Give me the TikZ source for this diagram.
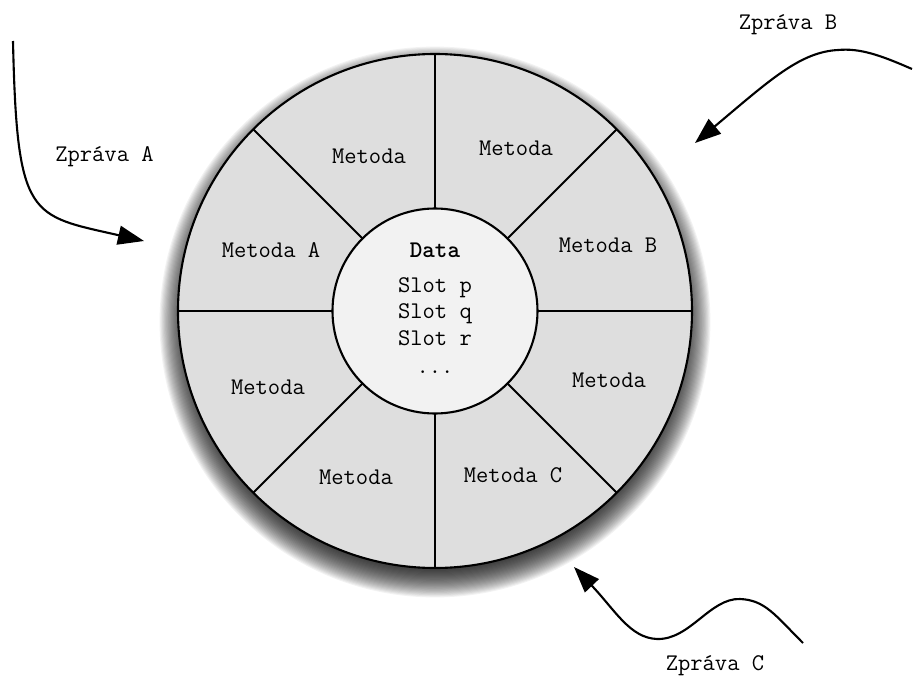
\documentclass[tikz,border=0pt]{standalone}
\usepackage{fontspec}
\usetikzlibrary{arrows.meta}
\definecolor{sectorfill}{HTML}{DEDEDE}
\definecolor{datafill}{HTML}{F2F2F2}
\def\outerr{5.14}
\def\innerr{2.05}
\def\shadowdrop{0.22}
\tikzset{
    every node/.style={font=\ttfamily\fontsize{13.6}{16}\selectfont},
    ring/.style={line width=1.2pt},
    metodatext/.style={inner sep=0pt},
    zpravatext/.style={anchor=base, inner sep=0pt},
    zprava/.style={line width=1.2pt, -{Triangle[length=0.52cm, width=0.38cm]}}
}
\newcommand{\metoda}[3]{
    \node[metodatext] (#1) at (#2) {#3};
}
\begin{document}
\begin{tikzpicture}
    \useasboundingbox (-8.70,-7.28) rectangle (9.56,6.22);
    % soft shadow under the ring
    \foreach \i in {0,...,24}
        \fill[black, opacity=0.05] (0,-\shadowdrop) circle ({\outerr-0.16+0.022*\i});
    % ring with the methods
    \coordinate (stred) at (0,0);
    \filldraw[ring, fill=sectorfill] (stred) circle (\outerr);
    \foreach \a in {0,45,...,315}
        \draw[ring] (\a:\innerr) -- (\a:\outerr);
    \filldraw[ring, fill=datafill] (stred) circle (\innerr);
    \metoda{m1}{-1.32,3.10}{Metoda}
    \metoda{m2}{1.62,3.26}{Metoda}
    \metoda{mA}{-3.28,1.22}{Metoda A}
    \metoda{mB}{3.46,1.32}{Metoda B}
    \metoda{m3}{-3.34,-1.52}{Metoda}
    \metoda{m4}{3.48,-1.38}{Metoda}
    \metoda{m5}{-1.58,-3.32}{Metoda}
    \metoda{mC}{1.56,-3.28}{Metoda C}
    % data in the middle
    \node[anchor=base] (data) at (0,1.08) {\bfseries Data};
    \foreach \s/\y in {p/0.38, q/-0.14, r/-0.68}
        \node[anchor=base] (slot\s) at (0,\y) {Slot \s};
    \node[anchor=base] (tecky) at (0,-1.24) {...};
    % messages
    \node[zpravatext] (zpravaA) at (-6.61,3.00) {Zpráva A};
    \node[zpravatext] (zpravaB) at (7.06,5.64) {Zpráva B};
    \node[zpravatext] (zpravaC) at (5.60,-7.19) {Zpráva C};
    \coordinate (zA) at (-8.44,5.40);
    \coordinate (cilA) at (-5.82,1.40);
    \coordinate (zB) at (9.54,4.84);
    \coordinate (cilB) at (5.20,3.36);
    \coordinate (zC) at (7.36,-6.64);
    \coordinate (cilC) at (2.78,-5.12);
    \draw[zprava] (zA) .. controls (-8.36,1.82) and (-8.10,1.92) .. (cilA);
    \draw[zprava] (zB) .. controls (8.90,5.12) and (8.50,5.26) .. (8.06,5.22)
        .. controls (7.30,5.18) and (6.70,4.62) .. (cilB);
    \draw[zprava] (zC) .. controls (6.80,-6.08) and (6.60,-5.78) .. (6.10,-5.76)
        .. controls (5.50,-5.74) and (5.10,-6.58) .. (4.44,-6.56)
        .. controls (3.90,-6.54) and (3.60,-5.98) .. (cilC);
\end{tikzpicture}
\end{document}
